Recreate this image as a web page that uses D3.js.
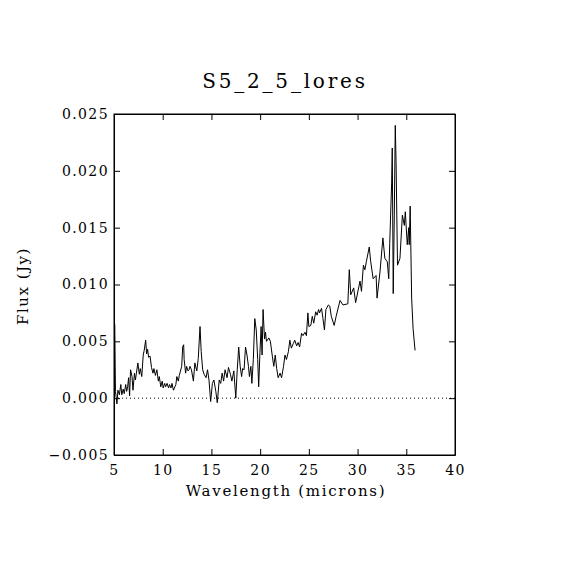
<!DOCTYPE html>
<html><head><meta charset="utf-8">
<script src="https://cdn.jsdelivr.net/npm/d3@7"></script>
<style>body{margin:0;background:#fff}svg{display:block}text{font-family:"DejaVu Serif",serif;fill:#000}</style>
</head><body><div id="c"></div>
<script>
const title = "S5_2_5_lores";
const xLabel = "Wavelength (microns)";
const yLabel = "Flux (Jy)";
const xTicks = [5,10,15,20,25,30,35,40];
const yTicks = [-0.005,0,0.005,0.010,0.015,0.020,0.025];
const yTickLabels = ["\u22120.005","0.000","0.005","0.010","0.015","0.020","0.025"];
const wavelength = [5.08,5.15,5.3,5.4,5.55,5.7,5.8,5.95,6.05,6.2,6.3,6.4,6.5,6.6,6.7,6.85,6.95,7.1,7.2,7.3,7.45,7.6,7.7,7.85,8.0,8.1,8.25,8.35,8.45,8.55,8.7,8.85,9.0,9.1,9.25,9.4,9.55,9.65,9.8,9.95,10.05,10.2,10.3,10.45,10.6,10.7,10.85,10.95,11.1,11.25,11.35,11.45,11.6,11.7,11.95,12.05,12.15,12.2,12.35,12.45,12.6,12.7,12.8,12.95,13.15,13.3,13.5,13.65,13.83,13.95,14.1,14.25,14.45,14.6,14.75,14.92,15.1,15.25,15.45,15.6,15.8,15.95,16.1,16.25,16.4,16.6,16.75,16.95,17.1,17.3,17.5,17.65,17.8,17.95,18.1,18.2,18.35,18.5,18.65,18.8,18.9,19.05,19.15,19.3,19.45,19.6,19.75,19.85,19.98,20.1,20.2,20.3,20.45,20.55,20.65,20.9,21.05,21.25,21.4,21.55,21.7,21.85,22.05,22.2,22.4,22.55,22.7,22.9,23.05,23.2,23.4,23.55,23.75,23.9,24.05,24.25,24.4,24.6,24.75,24.9,25.0,25.2,25.35,25.5,25.7,25.85,26.0,26.1,26.3,26.45,26.6,26.75,27.0,27.15,27.3,27.6,27.8,28.2,28.5,29.0,29.15,29.3,29.6,29.8,30.25,30.4,30.6,30.75,30.9,31.2,31.35,31.6,31.9,32.0,32.3,32.6,32.8,33.05,33.2,33.3,33.5,33.56,33.66,33.77,33.87,33.95,34.1,34.35,34.6,34.8,34.9,35.1,35.25,35.3,35.4,35.55,35.7,35.9];
const flux = [0.0065,0.0006,-0.0005,0.0007,0.0003,0.0012,0.0003,0.0008,0.0004,0.0012,0.0006,0.0010,0.0018,0.0002,0.0025,0.0019,0.0007,0.0022,0.0016,0.0022,0.0031,0.0021,0.0026,0.0019,0.0038,0.0042,0.0051,0.0039,0.0043,0.0036,0.0037,0.0027,0.0022,0.0026,0.0020,0.0025,0.0015,0.0019,0.0010,0.0015,0.0009,0.0013,0.0010,0.0013,0.0009,0.0012,0.0009,0.0013,0.0007,0.0010,0.0012,0.0019,0.0015,0.0020,0.0028,0.0045,0.0047,0.0034,0.0022,0.0028,0.0024,0.0025,0.0028,0.0025,0.0015,0.0031,0.0024,0.0035,0.0063,0.0041,0.0025,0.0021,0.0018,0.0025,0.0016,-0.0003,0.0013,0.0016,0.0006,-0.0004,0.0016,0.0013,0.0022,0.0015,0.0025,0.0018,0.0027,0.0021,0.0015,0.0024,0.0000,0.0025,0.0045,0.0028,0.0019,0.0026,0.0025,0.0045,0.0038,0.0028,0.0019,0.0028,0.0013,0.0034,0.0070,0.0060,0.0034,0.0010,0.0040,0.0063,0.0038,0.0078,0.0052,0.0058,0.0050,0.0053,0.0050,0.0037,0.0028,0.0038,0.0026,0.0018,0.0022,0.0018,0.0028,0.0038,0.0034,0.0041,0.0051,0.0044,0.0048,0.0051,0.0046,0.0049,0.0045,0.0057,0.0055,0.0058,0.0055,0.0075,0.0063,0.0064,0.0072,0.0066,0.0076,0.0073,0.0078,0.0075,0.0079,0.0070,0.0060,0.0078,0.0082,0.0081,0.0072,0.0064,0.0072,0.0086,0.0082,0.0083,0.0113,0.0091,0.0097,0.0084,0.0103,0.0094,0.0117,0.0113,0.0120,0.0133,0.0120,0.0105,0.0108,0.0088,0.0111,0.0141,0.0123,0.0120,0.0105,0.0136,0.0190,0.0220,0.0092,0.0161,0.0240,0.0208,0.0117,0.0123,0.0161,0.0152,0.0164,0.0135,0.0150,0.0135,0.0169,0.0088,0.0061,0.0042];

const W = 570, H = 570;
const L = 114, R = 455, T = 114, B = 455;
const svg = d3.select("#c").append("svg").attr("width", W).attr("height", H);
const x = d3.scaleLinear().domain([5, 40]).range([L, R]);
const y = d3.scaleLinear().domain([-0.005, 0.025]).range([B, T]);

// zero line
svg.append("line").attr("x1", L).attr("x2", R).attr("y1", y(0)).attr("y2", y(0))
  .attr("stroke", "#000").attr("stroke-width", 1).attr("stroke-dasharray", "1,3");

// data line
const data = wavelength.map((w, i) => [w, flux[i]]);
svg.append("path").datum(data)
  .attr("fill", "none").attr("stroke", "#000").attr("stroke-width", 1)
  .attr("d", d3.line().x(d => x(d[0])).y(d => y(d[1])));

// frame + ticks
const tl = 6;
const ax = svg.append("g");
const styleText = g => g.selectAll("text").attr("font-family", "DejaVu Serif").attr("font-size", 14)
  .attr("fill", "#000").style("letter-spacing", "1.4px");
ax.append("g").attr("transform", `translate(0,${B})`)
  .call(d3.axisBottom(x).tickValues(xTicks).tickSizeInner(-tl).tickSizeOuter(0).tickPadding(10).tickFormat(d3.format("d")))
  .call(styleText);
ax.append("g").attr("transform", `translate(0,${T})`)
  .call(d3.axisTop(x).tickValues(xTicks).tickSizeInner(-tl).tickSizeOuter(0).tickFormat(""));
ax.append("g").attr("transform", `translate(${L},0)`)
  .call(d3.axisLeft(y).tickValues(yTicks).tickSizeInner(-tl).tickSizeOuter(0).tickPadding(5).tickFormat((d, i) => yTickLabels[i]))
  .call(styleText);
ax.append("g").attr("transform", `translate(${R},0)`)
  .call(d3.axisRight(y).tickValues(yTicks).tickSizeInner(-tl).tickSizeOuter(0).tickFormat(""));
ax.selectAll(".domain").attr("stroke", "#000");
ax.selectAll(".tick line").attr("stroke", "#000");
svg.append("rect").attr("x", L).attr("y", T).attr("width", R - L).attr("height", B - T)
  .attr("fill", "none").attr("stroke", "#000").attr("stroke-width", 1);

svg.append("text").attr("x", 285).attr("y", 88).attr("text-anchor", "middle")
  .attr("font-size", 20).style("letter-spacing", "2.8px").text(title);
svg.append("text").attr("x", 286).attr("y", 496).attr("text-anchor", "middle")
  .attr("font-size", 15).style("letter-spacing", "1.7px").text(xLabel);
svg.append("text").attr("transform", "translate(28,286) rotate(-90)").attr("text-anchor", "middle")
  .attr("font-size", 15).style("letter-spacing", "1.5px").text(yLabel);
</script></body></html>
